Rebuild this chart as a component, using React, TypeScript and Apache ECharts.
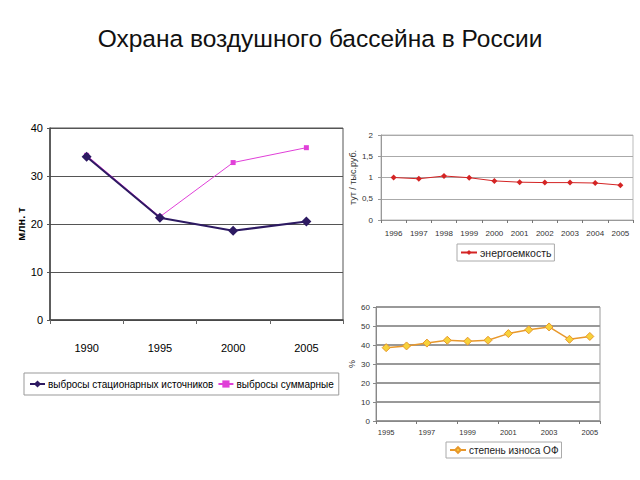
import React, { useEffect, useRef } from "react";
import * as echarts from "echarts";

const years1 = ["1990", "1995", "2000", "2005"];
const stationary = [34.0, 21.3, 18.6, 20.5];
const total = [34.3, 21.5, 32.8, 35.9];

const years2 = ["1996", "1997", "1998", "1999", "2000", "2001", "2002", "2003", "2004", "2005"];
const energy = [1.0, 0.97, 1.035, 0.995, 0.92, 0.89, 0.88, 0.88, 0.87, 0.82];

const years3 = ["1995", "1996", "1997", "1998", "1999", "2000", "2001", "2002", "2003", "2004", "2005"];
const wear = [38.6, 39.5, 41, 42.5, 42, 42.5, 46, 48, 49.5, 43, 44.5];

const ARIAL = "'Liberation Sans', Arial, sans-serif";

export default function App() {
  const ref = useRef<HTMLDivElement>(null);
  useEffect(() => {
    if (!ref.current) return;
    const chart = echarts.init(ref.current, null, { renderer: "svg" });
    chart.setOption({
      animation: false,
      backgroundColor: "#ffffff",
      title: {
        text: "Охрана воздушного бассейна в России",
        left: "center",
        top: 21,
        textStyle: { fontFamily: ARIAL, fontSize: 24.5, fontWeight: "normal", color: "#111" },
      },
      grid: [
        { left: 50, right: 297, top: 128, bottom: 160, show: true, borderColor: "#555", borderWidth: 1 },
        { left: 381, right: 7, top: 135, bottom: 260, show: true, borderColor: "#bbb", borderWidth: 1 },
        { left: 376, right: 40, top: 307, bottom: 59, show: true, borderColor: "#999", borderWidth: 1 },
      ],
      xAxis: [
        {
          gridIndex: 0, type: "category", data: years1, boundaryGap: true,
          axisLine: { lineStyle: { color: "#444", width: 1.5 } },
          axisTick: { show: true, length: 4, lineStyle: { color: "#666" } },
          axisLabel: { margin: 22, fontFamily: ARIAL, fontSize: 11, color: "#000" },
        },
        {
          gridIndex: 1, type: "category", data: years2, boundaryGap: true,
          axisLine: { lineStyle: { color: "#999" } },
          axisTick: { show: true, length: 3, lineStyle: { color: "#777" } },
          axisLabel: { margin: 9, fontFamily: ARIAL, fontSize: 8, color: "#333" },
        },
        {
          gridIndex: 2, type: "category", data: years3, boundaryGap: true,
          axisLine: { lineStyle: { color: "#888" } },
          axisTick: { show: true, length: 3, lineStyle: { color: "#777" } },
          axisLabel: { margin: 7, fontFamily: ARIAL, fontSize: 7.5, color: "#333", interval: 1 },
        },
      ],
      yAxis: [
        {
          gridIndex: 0, type: "value", min: 0, max: 40, interval: 10,
          name: "млн. т", nameLocation: "middle", nameGap: 21,
          nameTextStyle: { fontFamily: ARIAL, fontSize: 11, fontWeight: "bold", color: "#000" },
          axisLine: { show: true, lineStyle: { color: "#444", width: 1.5 } },
          axisTick: { show: true, length: 3, lineStyle: { color: "#555" } },
          axisLabel: { margin: 7, fontFamily: ARIAL, fontSize: 11, color: "#000" },
          splitLine: { lineStyle: { color: "#555", width: 1 } },
        },
        {
          gridIndex: 1, type: "value", min: 0, max: 2, interval: 0.5,
          name: "тут / тыс.руб.", nameLocation: "middle", nameGap: 23,
          nameTextStyle: { fontFamily: ARIAL, fontSize: 9, color: "#333" },
          axisLine: { show: true, lineStyle: { color: "#999" } },
          axisTick: { show: true, length: 3, lineStyle: { color: "#999" } },
          axisLabel: {
            margin: 8, fontFamily: ARIAL, fontSize: 8, color: "#333",
            formatter: (v: number) => String(v).replace(".", ","),
          },
          splitLine: { lineStyle: { color: "#aaa", width: 1 } },
        },
        {
          gridIndex: 2, type: "value", min: 0, max: 60, interval: 10,
          name: "%", nameLocation: "middle", nameGap: 20,
          nameTextStyle: { fontFamily: ARIAL, fontSize: 9, color: "#333" },
          axisLine: { show: true, lineStyle: { color: "#888" } },
          axisTick: { show: true, length: 3, lineStyle: { color: "#888" } },
          axisLabel: { margin: 6, fontFamily: ARIAL, fontSize: 8, color: "#333" },
          splitLine: { lineStyle: { color: "#999", width: 2 } },
        },
      ],
      legend: [
        {
          data: ["выбросы стационарных источников", "выбросы суммарные"],
          left: 24, top: 373, orient: "horizontal",
          borderColor: "#999", borderWidth: 1, padding: [6, 5],
          itemWidth: 15, itemHeight: 9, itemGap: 4,
          textStyle: { fontFamily: ARIAL, fontSize: 10, color: "#000", padding: [0, 0, 0, -2] },
        },
        {
          data: ["энергоемкость"],
          left: 457, top: 244,
          borderColor: "#aaa", borderWidth: 1, padding: [3, 3],
          itemWidth: 16, itemHeight: 6, itemGap: 4,
          textStyle: { fontFamily: ARIAL, fontSize: 10.5, color: "#222", padding: [0, 0, 0, -2] },
        },
        {
          data: ["степень износа ОФ"],
          left: 446, top: 442,
          borderColor: "#aaa", borderWidth: 1, padding: [3, 3],
          itemWidth: 16, itemHeight: 7, itemGap: 4,
          textStyle: { fontFamily: ARIAL, fontSize: 10, color: "#222", padding: [0, 0, 0, -2] },
        },
      ],
      series: [
        {
          name: "выбросы стационарных источников", type: "line",
          xAxisIndex: 0, yAxisIndex: 0, data: stationary,
          symbol: "diamond", symbolSize: 10,
          lineStyle: { color: "#2d1a62", width: 2 },
          itemStyle: { color: "#2d1a62" },
          z: 3,
        },
        {
          name: "выбросы суммарные", type: "line",
          xAxisIndex: 0, yAxisIndex: 0, data: total,
          symbol: "rect", symbolSize: 5,
          lineStyle: { color: "#e040d8", width: 1 },
          itemStyle: { color: "#e040d8" },
          z: 2,
        },
        {
          name: "энергоемкость", type: "line",
          xAxisIndex: 1, yAxisIndex: 1, data: energy,
          symbol: "diamond", symbolSize: 6,
          lineStyle: { color: "#d42424", width: 1 },
          itemStyle: { color: "#d42424" },
        },
        {
          name: "степень износа ОФ", type: "line",
          xAxisIndex: 2, yAxisIndex: 2, data: wear,
          symbol: "diamond", symbolSize: 8,
          lineStyle: { color: "#e8982c", width: 1.5 },
          itemStyle: { color: "#f7d23a", borderColor: "#e8982c", borderWidth: 1 },
        },
      ],
    });
    return () => chart.dispose();
  }, []);
  return (
    <div
      ref={ref}
      style={{ position: "fixed", left: 0, top: 0, width: 640, height: 480, background: "#fff" }}
    />
  );
}
